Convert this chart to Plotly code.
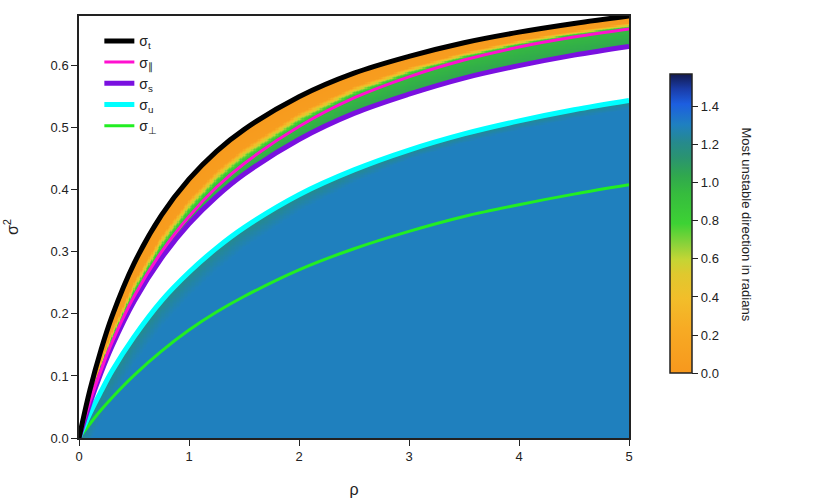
import numpy as np
import plotly.graph_objects as go

# ---------------- data ----------------
rho = [0, 0.1, 0.2, 0.3, 0.5, 0.75, 1.0, 1.25, 1.5, 2.0, 2.5, 3.0, 3.5, 4.0, 4.5, 5.0]
sigma_t = [0, 0.078, 0.142, 0.196, 0.281, 0.359, 0.417, 0.462, 0.497, 0.550, 0.588, 0.615, 0.637, 0.654, 0.668, 0.680]
sigma_par = [0, 0.059, 0.109, 0.154, 0.228, 0.300, 0.357, 0.404, 0.442, 0.502, 0.548, 0.582, 0.609, 0.630, 0.646, 0.659]
sigma_s = [0, 0.056, 0.105, 0.148, 0.220, 0.290, 0.345, 0.389, 0.425, 0.481, 0.523, 0.554, 0.580, 0.600, 0.617, 0.631]
sigma_u = [0, 0.040, 0.075, 0.108, 0.163, 0.221, 0.267, 0.306, 0.339, 0.392, 0.432, 0.464, 0.490, 0.511, 0.529, 0.544]
sigma_perp = [0, 0.023, 0.045, 0.065, 0.101, 0.140, 0.174, 0.203, 0.228, 0.271, 0.305, 0.333, 0.357, 0.376, 0.393, 0.408]

# most unstable direction (radians) across the upper band, from sigma_t (t=0) to sigma_par (t=1)
band_t = [0.0, 0.55, 0.68, 0.8, 0.92, 1.0]
band_angle = [0.03, 0.06, 0.45, 0.72, 0.9, 0.95]
# below sigma_par down to sigma_s
lower_u = [0.0, 1.0]
lower_angle = [0.95, 1.05]
# region below sigma_u
blue_angle = 1.30
teal_angle = 1.20
teal_rho = [0, 1, 3, 5]
teal_width = [0.05, 0.04, 0.015, 0.015]

cb_ticks = [0.0, 0.2, 0.4, 0.6, 0.8, 1.0, 1.2, 1.4]
x_ticks = [0, 1, 2, 3, 4, 5]
y_ticks = [0.0, 0.1, 0.2, 0.3, 0.4, 0.5, 0.6]
angle_max = np.pi / 2

# ---------------- build the angle field ----------------
xg = np.linspace(0, 5, 401)
yg = np.linspace(0, 0.68, 341)
X, Y = np.meshgrid(xg, yg)
B = np.interp(xg, rho, sigma_t)[None, :]
M = np.interp(xg, rho, sigma_par)[None, :]
S = np.interp(xg, rho, sigma_s)[None, :]
U = np.interp(xg, rho, sigma_u)[None, :]
W = np.interp(xg, teal_rho, teal_width)[None, :]

Z = np.full(X.shape, np.nan)
with np.errstate(divide="ignore", invalid="ignore"):
    t = (B - Y) / np.maximum(B - M, 1e-9)
    u = (M - Y) / np.maximum(M - S, 1e-9)
    upper = (Y <= B) & (Y >= M)
    lower = (Y < M) & (Y >= S)
    Z[upper] = np.interp(np.clip(t[upper], 0, 1), band_t, band_angle)
    Z[lower] = np.interp(np.clip(u[lower], 0, 1), lower_u, lower_angle)
    blue = Y <= U
    d = (U - Y) / W
    f = np.clip(1 - d, 0, 1)
    Zb = blue_angle - (blue_angle - teal_angle) * f
    Z[blue] = Zb[blue]
Z = np.round(Z, 3)

colorscale = [
    [0.00, "#f7981d"],
    [0.15, "#f7ab24"],
    [0.25, "#f2be2a"],
    [0.33, "#e0c82e"],
    [0.38, "#c4d534"],
    [0.43, "#8cd23a"],
    [0.50, "#3dd234"],
    [0.60, "#36bc3e"],
    [0.66, "#30a84e"],
    [0.72, "#2a9470"],
    [0.77, "#268a8c"],
    [0.83, "#1f80c0"],
    [0.90, "#1c5ee0"],
    [0.95, "#1a3ca8"],
    [1.00, "#121a4e"],
]

fig = go.Figure()
fig.add_trace(go.Heatmap(
    x=xg, y=yg, z=Z, zmin=0, zmax=angle_max, colorscale=colorscale,
    hoverinfo="skip", showscale=True,
    colorbar=dict(
        x=1.0563, xanchor="left", xref="paper", y=0.508, yanchor="middle",
        len=0.756, thickness=22, outlinewidth=1.5, outlinecolor="#222",
        tickvals=cb_ticks, ticktext=[f"{v:.1f}" for v in cb_ticks],
        ticks="outside", ticklen=6, tickwidth=1.2, tickcolor="#222",
        tickfont=dict(size=13, color="#222"),
    ),
))

lines = [
    ("σ<sub>⊥</sub>", sigma_perp, "#22ee22", 3, 5),
    ("σ<sub>u</sub>", sigma_u, "#00ffff", 5, 4),
    ("σ<sub>s</sub>", sigma_s, "#7a10e0", 5, 3),
    ("σ<sub>∥</sub>", sigma_par, "#ff10d0", 3, 2),
    ("σ<sub>t</sub>", sigma_t, "#000000", 5, 1),
]
for name, ys, col, w, rank in lines:
    fig.add_trace(go.Scatter(
        x=rho, y=ys, mode="lines", name=name, legendrank=rank,
        line=dict(color=col, width=w, shape="spline"), hoverinfo="skip",
    ))

fig.add_annotation(
    x=1.231, y=0.507, xref="paper", yref="paper",
    text="Most unstable direction in radians", textangle=90,
    showarrow=False, font=dict(size=13, color="#222"),
)

fig.update_layout(
    width=830, height=498,
    margin=dict(l=79, r=201, t=16, b=60, autoexpand=False),
    plot_bgcolor="white", paper_bgcolor="white",
    font=dict(family="Liberation Sans, Arial, sans-serif", size=13, color="#222"),
    showlegend=True,
    legend=dict(x=0.037, y=0.978, xanchor="left", yanchor="top",
                bgcolor="rgba(0,0,0,0)", font=dict(size=14)),
    xaxis=dict(range=[0, 5], tickvals=x_ticks, ticks="outside", ticklen=6,
               tickcolor="#222", showline=True, linecolor="#222", linewidth=1.5,
               mirror=True, showgrid=False, zeroline=False, automargin=False,
               title=dict(text="ρ", standoff=20)),
    yaxis=dict(range=[0, 0.68], tickvals=y_ticks, ticktext=[f"{v:.1f}" for v in y_ticks],
               ticks="outside", ticklen=6, tickcolor="#222", showline=True,
               linecolor="#222", linewidth=1.5, mirror=True, showgrid=False,
               zeroline=False, automargin=False,
               title=dict(text="σ<sup>2</sup>", standoff=28)),
)

fig.write_html("out.html",
               config={"displayModeBar": False},
               post_script="document.body.style.margin='0px';document.body.style.overflow='hidden';")
